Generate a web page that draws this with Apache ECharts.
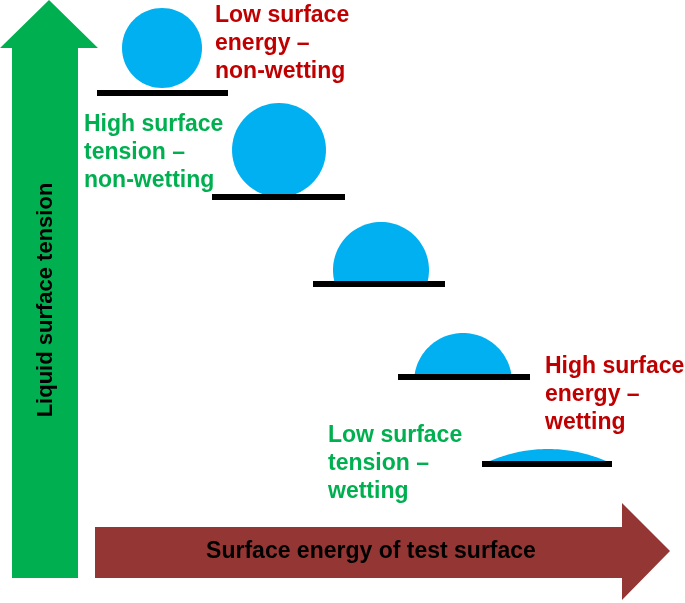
<!DOCTYPE html>
<html>
<head>
<meta charset="utf-8">
<script src="https://cdn.jsdelivr.net/npm/echarts@6/dist/echarts.min.js"></script>
<style>html,body{margin:0;padding:0;background:#fff}#chart{width:685px;height:603px}</style>
</head>
<body>
<div id="chart"></div>
<script>
// 液滴：[圆心x, 圆心y, 半径, 表面y]
const drops = [
  [162, 48, 40, 90],
  [279, 150, 47, 195],
  [381, 270, 48, 283],
  [463, 382, 49, 376],
  [548, 594, 145, 462]
];
// 基底：[x1, x2, y]
const surfaces = [
  [97, 228, 93],
  [212, 345, 197],
  [313, 445, 284],
  [398, 530, 377],
  [482, 612, 464]
];
// 箭头轮廓
const greenArrow = [[49, 0], [98, 48], [78, 48], [78, 578], [12, 578], [12, 48], [0, 48]];
const redArrow = [[95, 527], [622, 527], [622, 503], [670, 551], [622, 600], [622, 578], [95, 578]];
// 文字：[x, y, 文本, 颜色]
const labels = [
  [215, 15, 'Low surface\nenergy –\nnon-wetting', '#c00000'],
  [84, 124, 'High surface\ntension –\nnon-wetting', '#00b050'],
  [545, 366, 'High surface\nenergy –\nwetting', '#c00000'],
  [328, 435, 'Low surface\ntension –\nwetting', '#00b050']
];

const chart = echarts.init(document.getElementById('chart'));

function dropItem(params, api) {
  const cx = api.value(0), cy = api.value(1), r = api.value(2), sy = api.value(3);
  const pts = [];
  const dy = sy - cy;
  if (dy >= r) {
    for (let i = 0; i < 72; i++) {
      const a = i / 72 * Math.PI * 2;
      pts.push(api.coord([cx + r * Math.cos(a), cy + r * Math.sin(a)]));
    }
  } else {
    // 表面以上的圆弧
    const a0 = Math.asin(dy / r);
    const a1 = Math.PI - a0;
    const n = 60;
    for (let i = 0; i <= n; i++) {
      const a = a1 + (Math.PI * 2 + a0 - a1) * i / n;
      pts.push(api.coord([cx + r * Math.cos(a), cy + r * Math.sin(a)]));
    }
  }
  return { type: 'polygon', shape: { points: pts }, style: { fill: '#00b0f0' } };
}

const FONT = 'bold 23px Arial, "Liberation Sans", sans-serif';

chart.setOption({
  animation: false,
  grid: { left: 0, right: 0, top: 0, bottom: 0 },
  xAxis: { type: 'value', min: 0, max: 685, show: false },
  yAxis: { type: 'value', min: 0, max: 603, inverse: true, show: false },
  series: [
    {
      type: 'custom', data: [0], silent: true,
      renderItem: (params, api) => ({
        type: 'group', children: [
          { type: 'polygon', shape: { points: greenArrow.map(p => api.coord(p)) }, style: { fill: '#00b050' } },
          { type: 'polygon', shape: { points: redArrow.map(p => api.coord(p)) }, style: { fill: '#943634' } }
        ]
      })
    },
    {
      type: 'custom', data: drops, silent: true, renderItem: dropItem
    },
    {
      type: 'custom', data: surfaces, silent: true,
      renderItem: (params, api) => {
        const a = api.coord([api.value(0), api.value(2) - 3]);
        const b = api.coord([api.value(1), api.value(2) + 3]);
        return { type: 'rect', shape: { x: a[0], y: a[1], width: b[0] - a[0], height: b[1] - a[1] }, style: { fill: '#000' } };
      }
    },
    {
      type: 'custom', data: labels, silent: true,
      renderItem: (params, api) => {
        const d = labels[params.dataIndex];
        const p = api.coord([d[0], d[1]]);
        return {
          type: 'text', x: p[0], y: p[1] - 13,
          style: { text: d[2], fill: d[3], font: FONT, lineHeight: 28, textAlign: 'left', textVerticalAlign: 'top' }
        };
      }
    },
    {
      type: 'custom', data: [0], silent: true,
      renderItem: (params, api) => {
        const p1 = api.coord([46, 300]);
        const p2 = api.coord([371, 552]);
        return {
          type: 'group', children: [
            { type: 'text', x: p1[0], y: p1[1], rotation: Math.PI / 2,
              style: { text: 'Liquid surface tension', fill: '#000', font: 'bold 22px Arial, "Liberation Sans", sans-serif', textAlign: 'center', textVerticalAlign: 'middle' } },
            { type: 'text', x: p2[0], y: p2[1],
              style: { text: 'Surface energy of test surface', fill: '#000', font: FONT, textAlign: 'center', textVerticalAlign: 'middle' } }
          ]
        };
      }
    }
  ]
});
</script>
</body>
</html>
